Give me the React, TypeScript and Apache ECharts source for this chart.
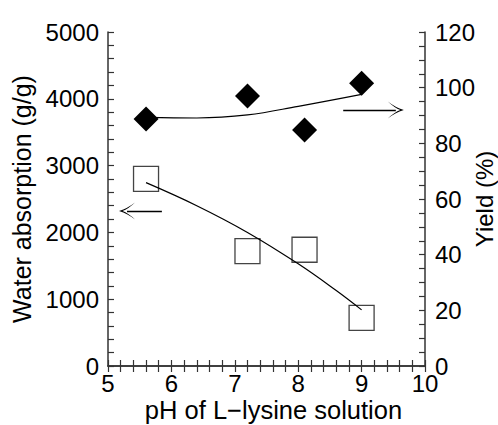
import React, { useEffect, useRef } from 'react';
import * as echarts from 'echarts';

const phValues = [5.6, 7.2, 8.1, 9.0];
const waterAbsorption = [2800, 1720, 1740, 720];
const yieldValues = [88.7, 97, 84.8, 101.6];
const waterTrendPh = [5.6, 6.4, 7.2, 8.0, 8.6, 9.0];
const waterTrend = [2745, 2400, 2000, 1530, 1130, 840];
const yieldTrendPh = [5.6, 6.4, 7.2, 8.0, 9.0];
const yieldTrend = [89.3, 89.1, 90.2, 93.3, 97.6];
const leftArrow = [[5.85, 2320], [5.30, 2320]];
const rightArrow = [[8.71, 92], [9.54, 92]];

const FONT = 'Liberation Sans, Arial, sans-serif';
const AX = '#333';
const ARROW_HEAD = 'path://M50 0 Q66 55 100 100 Q62 58 50 22 Q38 58 0 100 Q34 55 50 0 Z';

export default function App() {
  const ref = useRef<HTMLDivElement>(null);
  useEffect(() => {
    const chart = echarts.init(ref.current!, null, { renderer: 'svg' });
    const tickCommon = { show: true, inside: true, length: 6, lineStyle: { color: AX, width: 1.2 } };
    const minorCommon = (n: number) => ({ show: true, splitNumber: n, length: 6, lineStyle: { color: AX, width: 1.2 } });
    const labelCommon = { color: '#000', fontSize: 24, fontFamily: FONT };
    const plain = (v: number) => String(v);
    chart.setOption({
      animation: false,
      backgroundColor: '#fff',
      grid: { left: 108, right: 73, top: 32, bottom: 59, outerBoundsMode: 'none', containLabel: false },
      xAxis: [
        {
          type: 'value', min: 5, max: 10, interval: 1, position: 'bottom',
          name: 'pH of L\u2212lysine solution', nameLocation: 'middle', nameGap: 32, nameMoveOverlap: false,
          nameTextStyle: { ...labelCommon, fontSize: 25.5, lineHeight: 24, padding: [0, 0, 0, 14] },
          axisLine: { show: true, lineStyle: { color: AX, width: 1.5 } },
          axisTick: tickCommon,
          minorTick: minorCommon(5),
          axisLabel: { ...labelCommon, margin: 5, formatter: plain },
          splitLine: { show: false },
        },
        {
          type: 'value', min: 5, max: 10, interval: 1, position: 'top',
          axisLine: { show: true, lineStyle: { color: AX, width: 1.5 } },
          axisTick: tickCommon,
          minorTick: minorCommon(5),
          axisLabel: { show: false },
          splitLine: { show: false },
        },
      ],
      yAxis: [
        {
          type: 'value', min: 0, max: 5000, interval: 1000, position: 'left',
          name: 'Water absorption (g/g)', nameLocation: 'middle', nameGap: 74, nameRotate: 90, nameMoveOverlap: false,
          nameTextStyle: { ...labelCommon, fontSize: 25 },
          axisLine: { show: true, lineStyle: { color: AX, width: 1.5 } },
          axisTick: tickCommon,
          minorTick: minorCommon(5),
          axisLabel: { ...labelCommon, margin: 9, formatter: plain },
          splitLine: { show: false },
        },
        {
          type: 'value', min: 0, max: 120, interval: 20, position: 'right',
          name: 'Yield (%)', nameLocation: 'middle', nameGap: 48, nameRotate: 90, nameMoveOverlap: false,
          nameTextStyle: { ...labelCommon, lineHeight: 22 },
          axisLine: { show: true, lineStyle: { color: AX, width: 1.5 } },
          axisTick: tickCommon,
          minorTick: minorCommon(4),
          axisLabel: { ...labelCommon, margin: 10, formatter: plain },
          splitLine: { show: false },
        },
      ],
      series: [
        {
          type: 'scatter', xAxisIndex: 0, yAxisIndex: 0, symbol: 'rect', symbolSize: 25,
          data: phValues.map((p, i) => [p, waterAbsorption[i]]),
          itemStyle: { color: 'rgba(255,255,255,0)', borderColor: '#444', borderWidth: 1.3, opacity: 1 },
          markLine: {
            silent: true, animation: false,
            symbol: ['none', ARROW_HEAD], symbolSize: [17, 16],
            label: { show: false },
            lineStyle: { type: 'solid', color: '#000', width: 1.4 },
            data: [[{ coord: leftArrow[0] }, { coord: leftArrow[1] }]],
          },
        },
        {
          type: 'scatter', xAxisIndex: 0, yAxisIndex: 1, symbol: 'diamond', symbolSize: 25,
          data: phValues.map((p, i) => [p, yieldValues[i]]),
          itemStyle: { color: '#000', opacity: 1 },
          markLine: {
            silent: true, animation: false,
            symbol: ['none', ARROW_HEAD], symbolSize: [17, 16],
            label: { show: false },
            lineStyle: { type: 'solid', color: '#000', width: 1.4 },
            data: [[{ coord: rightArrow[0] }, { coord: rightArrow[1] }]],
          },
        },
        {
          type: 'line', xAxisIndex: 0, yAxisIndex: 0, smooth: 0.4, showSymbol: false, z: 3,
          data: waterTrendPh.map((p, i) => [p, waterTrend[i]]),
          lineStyle: { color: '#000', width: 1.2 },
        },
        {
          type: 'line', xAxisIndex: 0, yAxisIndex: 1, smooth: 0.4, showSymbol: false, z: 1,
          data: yieldTrendPh.map((p, i) => [p, yieldTrend[i]]),
          lineStyle: { color: '#000', width: 1.2 },
        },
      ],
    });
    return () => chart.dispose();
  }, []);
  return <div ref={ref} style={{ position: 'fixed', left: 0, top: 0, width: 498, height: 425 }} />;
}
